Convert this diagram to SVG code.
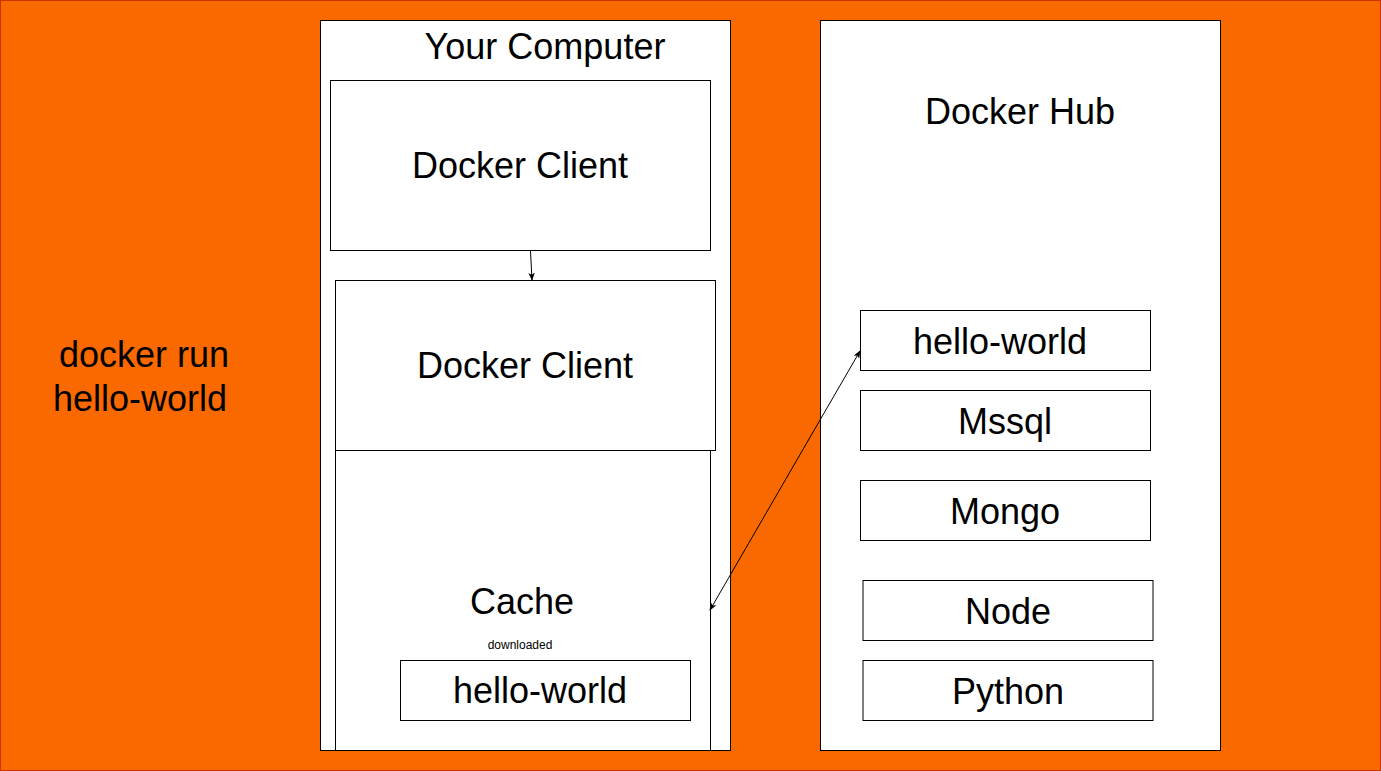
<svg xmlns="http://www.w3.org/2000/svg" width="1381" height="771" viewBox="0 0 1381 771">
<defs>
<marker id="ah" viewBox="0 0 10 10" refX="9" refY="5" markerWidth="8" markerHeight="8" markerUnits="userSpaceOnUse" orient="auto-start-reverse">
<path d="M0,1 L10,5 L0,9 L2.5,5 Z" fill="#000"/>
</marker>
</defs>
<style>
.box{fill:#fff;stroke:#000;stroke-width:1}
.t{font-family:"Liberation Sans",Arial,sans-serif;font-size:36px;fill:#000;text-anchor:middle}
.s{font-family:"Liberation Sans",Arial,sans-serif;font-size:12px;fill:#000;text-anchor:middle}
.c{stroke:#000;stroke-width:1;fill:none}
</style>
<rect x="0.5" y="0.5" width="1380" height="770" fill="#fa6800" stroke="#c73500"/>
<g id="command">
<text class="t" x="144" y="367">docker run</text>
<text class="t" x="140" y="411">hello-world</text>
</g>
<g id="your-computer">
<rect class="box" x="320.5" y="20.5" width="410" height="730"/>
<text class="t" x="545" y="59">Your Computer</text>
</g>
<g id="docker-hub">
<rect class="box" x="820.5" y="20.5" width="400" height="730"/>
<text class="t" x="1020" y="124">Docker Hub</text>
</g>
<g id="docker-client-1">
<rect class="box" x="330.5" y="80.5" width="380" height="170"/>
<text class="t" x="520" y="178">Docker Client</text>
</g>
<g id="cache">
<rect class="box" x="335.5" y="450.5" width="375" height="300"/>
<text class="t" x="522" y="614">Cache</text>
<text class="s" x="520" y="649">downloaded</text>
</g>
<g id="docker-client-2">
<rect class="box" x="335.5" y="280.5" width="380" height="170"/>
<text class="t" x="525" y="378">Docker Client</text>
</g>
<g id="cache-hello-world">
<rect class="box" x="400.5" y="660.5" width="290" height="60"/>
<text class="t" x="540" y="703">hello-world</text>
</g>
<g id="hub-hello-world">
<rect class="box" x="860.5" y="310.5" width="290" height="60"/>
<text class="t" x="1000" y="354">hello-world</text>
</g>
<g id="hub-mssql">
<rect class="box" x="860.5" y="390.5" width="290" height="60"/>
<text class="t" x="1005" y="434">Mssql</text>
</g>
<g id="hub-mongo">
<rect class="box" x="860.5" y="480.5" width="290" height="60"/>
<text class="t" x="1005" y="524">Mongo</text>
</g>
<g id="hub-node">
<rect class="box" x="863" y="580.5" width="290" height="60"/>
<text class="t" x="1008" y="624">Node</text>
</g>
<g id="hub-python">
<rect class="box" x="863" y="660.5" width="290" height="60"/>
<text class="t" x="1008" y="704">Python</text>
</g>
<g id="connectors">
<line class="c" x1="530.5" y1="251" x2="532" y2="280" marker-end="url(#ah)"/>
<line class="c" x1="710" y1="610" x2="860" y2="351" marker-start="url(#ah)" marker-end="url(#ah)"/>
</g>
</svg>
